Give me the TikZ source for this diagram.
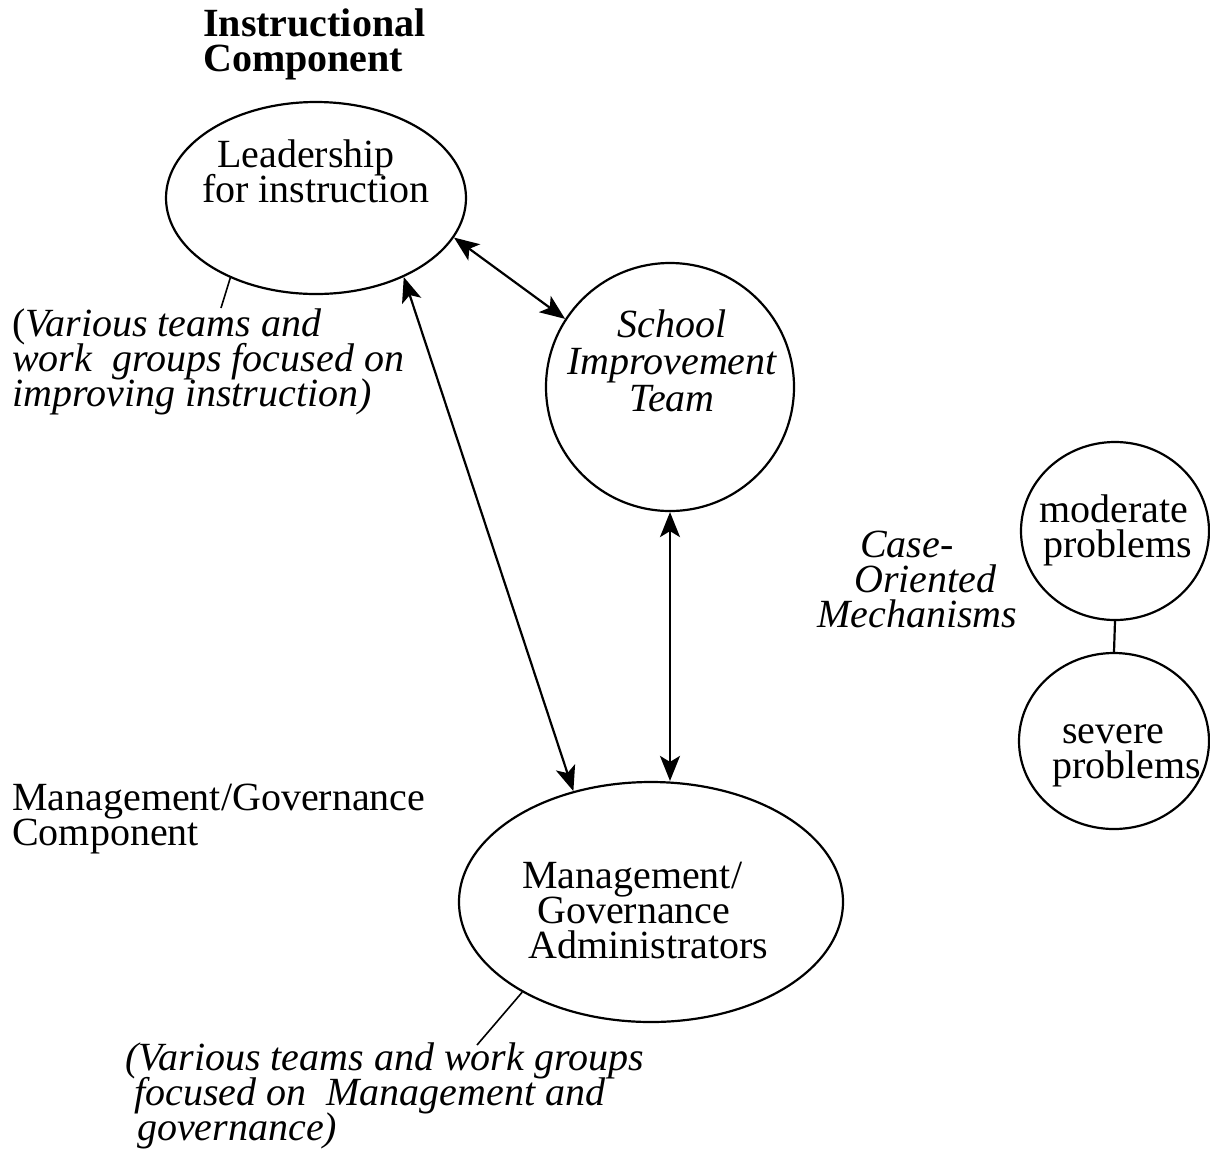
\documentclass[tikz,border=0pt]{standalone}
\usepackage{fontspec}
\setmainfont{Liberation Serif}
\usetikzlibrary{arrows.meta,shapes.geometric}
\begin{document}
\begin{tikzpicture}[x=1pt,y=-1pt,
  txt/.style={inner sep=0pt, font={\fontsize{40}{35}\selectfont\lineskiplimit-100pt}},
  itxt/.style={inner sep=0pt, font={\fontsize{40}{35}\selectfont\itshape\lineskiplimit-100pt}},
  btxt/.style={inner sep=0pt, font={\fontsize{40}{35}\selectfont\bfseries\lineskiplimit-100pt}},
  lipse/.style={draw, ellipse, line width=2.2pt, inner sep=0pt},
  tip/.style={Stealth[length=25pt,width=20pt,inset=6pt]},
  biarrow/.style={line width=2.2pt, {Stealth[length=25pt,width=20pt,inset=6pt]}-{Stealth[length=25pt,width=20pt,inset=6pt]}},
  pointer/.style={line width=1.6pt}
]
\useasboundingbox (0,0) rectangle (1210,1152);

% headings (anchors sit on the baseline of the last line)
\node[btxt, anchor=base west, align=left] (title) at (203,71) {Instructional\\Component};
\node[txt, anchor=base west, align=left] (mglabel) at (12,845) {Management/Governance\\Component};

% leadership for instruction
\node[lipse, minimum width=300pt, minimum height=192pt] (lead) at (316,198) {};
\node[txt, anchor=base west, align=left] (leadtext) at (202,202) {\hspace*{15pt}Leadership\\for instruction};
\node[txt, anchor=base west, align=left] (note1) at (12,406)
  {(\textit{Various teams and}\\\textit{work\ \ groups focused on}\\\textit{improving instruction)}};
\coordinate (n1end) at (221,308);
\draw[pointer] (lead.223) -- (n1end);

% school improvement team
\node[lipse, minimum width=248pt, minimum height=248pt] (sit) at (670,387) {};
\node[itxt, anchor=base, align=center, font={\fontsize{40}{37}\selectfont\itshape\lineskiplimit-100pt}] (sittext) at (672,411) {School\\Improvement\\Team};

% case-oriented mechanisms
\node[itxt, anchor=base west, align=left] (case) at (817,627)
  {\hspace*{43pt}Case-\\\hspace*{37pt}Oriented\\Mechanisms};
\node[lipse, minimum width=188pt, minimum height=178pt] (mod) at (1115,531) {};
\node[txt, anchor=base west, align=left] (modtext) at (1039,557) {moderate\\\hspace*{4pt}problems};
\node[lipse, minimum width=190pt, minimum height=176pt] (sev) at (1114,741) {};
\node[txt, anchor=base west, align=left] (sevtext) at (1052,778) {\hspace*{10pt}severe\\problems};
\draw[line width=2.2pt] (mod.south) -- (sev.north);

% management / governance administrators
\node[lipse, minimum width=384pt, minimum height=240pt] (mgmt) at (651,902) {};
\node[txt, anchor=base west, align=left] (mgtext) at (522,958)
  {Management/\\\hspace*{15pt}Governance\\\hspace*{6pt}Administrators};
\node[itxt, anchor=base west, align=left] (note2) at (125,1140)
  {(Various teams and work groups\\\hspace*{9pt}focused on\ \ Management and\\\hspace*{12pt}governance)};
\coordinate (n2end) at (477,1045);
\draw[pointer] (mgmt.215) -- (n2end);

% links between the mechanisms
\draw[biarrow] (lead.-16) -- (sit.147);
\draw[biarrow] (lead.-42) -- (mgmt.125);
\draw[biarrow] (sit.south) -- (sit.south |- mgmt.north);
\end{tikzpicture}
\end{document}
